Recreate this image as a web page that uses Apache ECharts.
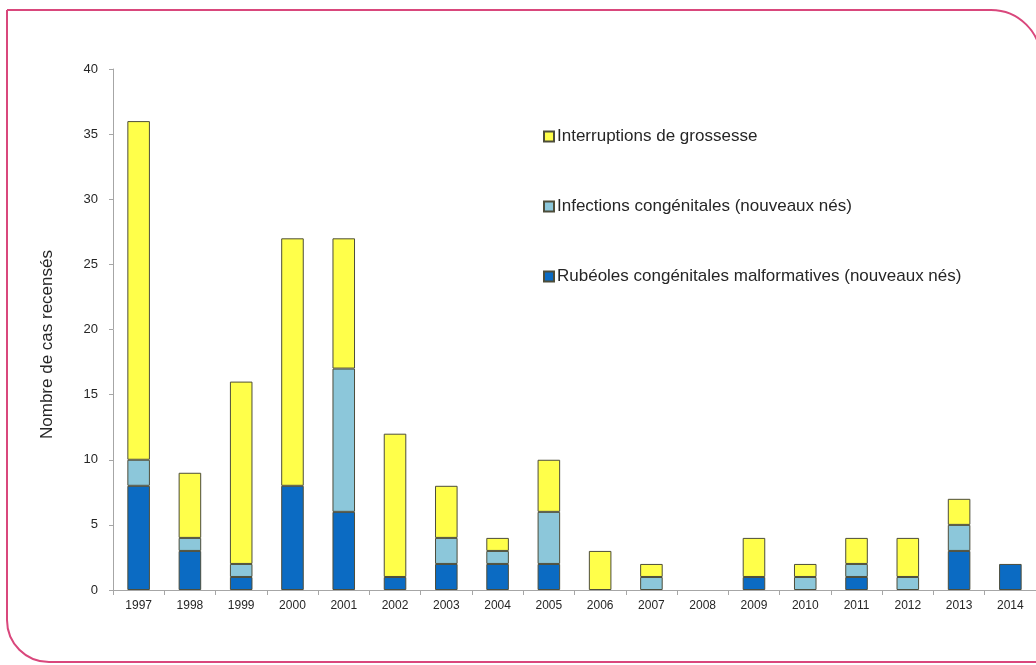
<!DOCTYPE html>
<html>
<head>
<meta charset="utf-8">
<script src="https://cdn.jsdelivr.net/npm/echarts@6/dist/echarts.min.js"></script>
<style>
  html, body { margin: 0; padding: 0; background: #fff; }
  #chart { width: 1036px; height: 665px; }
</style>
</head>
<body>
<div id="chart"></div>
<script>
const years = ['1997','1998','1999','2000','2001','2002','2003','2004','2005','2006','2007','2008','2009','2010','2011','2012','2013','2014'];
const rubeoles     = [8, 3, 1, 8, 6, 1, 2, 2, 2, 0, 0, 0, 1, 0, 1, 0, 3, 2];
const infections   = [2, 1, 1, 0, 11, 0, 2, 1, 4, 0, 1, 0, 0, 1, 1, 1, 2, 0];
const interruptions= [26, 5, 14, 19, 10, 11, 4, 1, 4, 3, 1, 0, 3, 1, 2, 3, 2, 0];
const yTicks = [0, 5, 10, 15, 20, 25, 30, 35, 40];

const nameRub = 'Rubéoles congénitales malformatives (nouveaux nés)';
const nameInf = 'Infections congénitales (nouveaux nés)';
const nameInt = 'Interruptions de grossesse';

const font = "'Liberation Sans', Arial, sans-serif";

const chart = echarts.init(document.getElementById('chart'), null, { renderer: 'canvas' });

function mk(name, data, color) {
  return {
    name: name,
    type: 'bar',
    stack: 'total',
    data: data.map(function (v) { return v === 0 ? null : v; }),
    barWidth: '44%',
    itemStyle: { color: color, borderColor: '#4d4d3a', borderWidth: 1 },
    emphasis: { disabled: true }
  };
}

chart.setOption({
  backgroundColor: '#ffffff',
  animation: false,
  graphic: [{
    type: 'rect',
    shape: { x: 7, y: 10, width: 1034, height: 652, r: [0, 50, 0, 42] },
    style: { fill: 'none', stroke: '#d9477c', lineWidth: 2 },
    z: -1
  }],
  grid: { left: 113, right: -5, top: 69, bottom: 75 },
  legend: {
    orient: 'vertical',
    left: 538,
    top: 123,
    itemGap: 53,
    itemWidth: 10,
    itemHeight: 10,
    icon: 'rect',
    data: [nameInt, nameInf, nameRub],
    textStyle: { fontFamily: font, fontSize: 17, color: '#262626', padding: [0, 0, 0, -2] }
  },
  xAxis: {
    type: 'category',
    data: years,
    axisLine: { lineStyle: { color: '#a6a6a6', width: 1 } },
    axisTick: { show: true, alignWithLabel: false, length: 5, lineStyle: { color: '#a6a6a6' } },
    axisLabel: { fontFamily: font, fontSize: 12, color: '#262626', margin: 10, interval: 0 }
  },
  yAxis: {
    type: 'value',
    min: 0, max: 40, interval: 5,
    name: 'Nombre de cas recensés',
    nameLocation: 'middle',
    nameGap: 57,
    nameTextStyle: { fontFamily: font, fontSize: 17, color: '#262626', padding: [0, 30, 0, 0] },
    axisLine: { show: true, lineStyle: { color: '#a6a6a6', width: 1 } },
    axisTick: { show: true, length: 4, lineStyle: { color: '#a6a6a6' } },
    splitLine: { show: false },
    axisLabel: {
      fontFamily: font, fontSize: 13, color: '#262626', margin: 15,
      formatter: function (v) { return yTicks.indexOf(v) >= 0 ? String(v) : ''; }
    }
  },
  series: [
    mk(nameRub, rubeoles, '#0b6bc3'),
    mk(nameInf, infections, '#8cc7da'),
    mk(nameInt, interruptions, '#ffff4a')
  ]
});
</script>
</body>
</html>
